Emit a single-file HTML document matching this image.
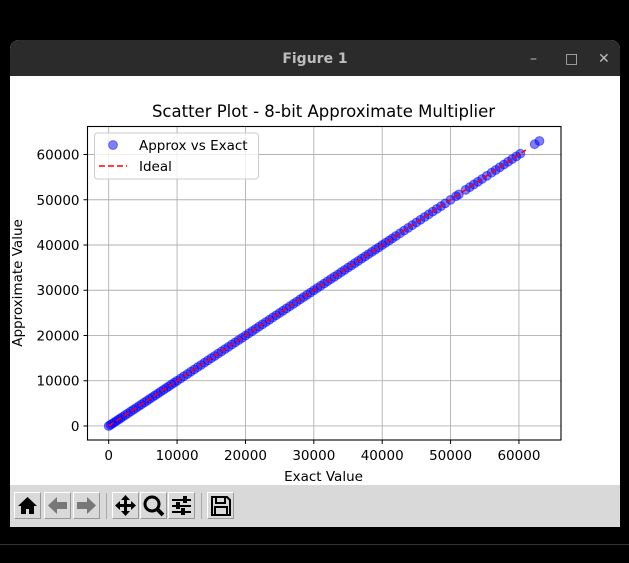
<!DOCTYPE html>
<html><head><meta charset="utf-8"><style>
html,body{margin:0;padding:0;background:#000;width:629px;height:563px;overflow:hidden;font-family:"DejaVu Sans","Liberation Sans",sans-serif}
#win{position:absolute;left:10px;top:40px;width:610px;height:487px;background:#fff;border-radius:9px 9px 0 0;overflow:hidden}
#titlebar{position:absolute;left:0;top:0;width:610px;height:36px;background:#2b2b2b;color:#bdbdbd;font-weight:bold;font-size:14px;text-align:center;line-height:38px}
#toolbar{position:absolute;left:0;top:445px;width:610px;height:42px;background:#d9d9d9}
.btn{position:absolute;top:7px;width:25px;height:25px;border:1px solid #fff;border-right-color:#999;border-bottom-color:#999;background:#d9d9d9}
.sep{position:absolute;top:8px;width:1px;height:26px;background:#aaa}
</style></head><body>
<div id="win">
 <div id="titlebar">Figure 1
  <span style="position:absolute;left:520px;top:0;font-weight:normal">–</span>
  <span style="position:absolute;left:555px;top:0;font-weight:normal">□</span>
  <span style="position:absolute;left:588px;top:0;font-weight:normal">✕</span>
 </div>
 <svg id="chart" width="610" height="409" style="position:absolute;left:0;top:36px" viewBox="10 76 610 409"></svg>
 <div id="toolbar">
  <div class="btn" style="left:4px"><svg width="25" height="25"><path d="M3 13 L12.5 4 L22 13 L19 13 L19 21 L14 21 L14 16 L11 16 L11 21 L6 21 L6 13Z" fill="#000"/></svg></div>
  <div class="btn" style="left:34px"><svg width="25" height="25"><path d="M3 12.5 L12 4 L12 9 L22 9 L22 16 L12 16 L12 21Z" fill="#777"/></svg></div>
  <div class="btn" style="left:63px"><svg width="25" height="25"><path d="M22 12.5 L13 4 L13 9 L3 9 L3 16 L13 16 L13 21Z" fill="#777"/></svg></div>
  <div class="sep" style="left:96px"></div>
  <div class="btn" style="left:102px"><svg width="25" height="25"><path d="M12.5 2 L17 7 L14 7 L14 11 L18 11 L18 8 L23 12.5 L18 17 L18 14 L14 14 L14 18 L17 18 L12.5 23 L8 18 L11 18 L11 14 L7 14 L7 17 L2 12.5 L7 8 L7 11 L11 11 L11 7 L8 7Z" fill="#000"/></svg></div>
  <div class="btn" style="left:130px"><svg width="25" height="25"><circle cx="11" cy="11" r="7" fill="none" stroke="#000" stroke-width="3"/><path d="M16 16 L22 22" stroke="#000" stroke-width="4"/></svg></div>
  <div class="btn" style="left:158px"><svg width="25" height="25" fill="#000"><rect x="3" y="6" width="19" height="2"/><rect x="3" y="12" width="19" height="2"/><rect x="3" y="18" width="19" height="2"/><rect x="14" y="3" width="4" height="7"/><rect x="7" y="9" width="4" height="7"/><rect x="12" y="15" width="4" height="7"/></svg></div>
  <div class="sep" style="left:191px"></div>
  <div class="btn" style="left:197px"><svg width="25" height="25"><path d="M4 4 L19 4 L22 7 L22 22 L4 22Z" fill="none" stroke="#000" stroke-width="2"/><rect x="8" y="4" width="9" height="6" fill="none" stroke="#000" stroke-width="2"/><rect x="7" y="14" width="12" height="8" fill="none" stroke="#000" stroke-width="2"/></svg></div>
 </div>
</div>
<div style="position:absolute;left:0;top:544px;width:629px;height:1px;background:#333"></div>
<script>
const xTicks=[0,10000,20000,30000,40000,50000,60000];
const yTicks=[0,10000,20000,30000,40000,50000,60000];
const exactVals=[0,250,500,800,1100,1400,1700,2000,2400,2800,3200,3600,4000,4400,4800,5200,5600,6000,6400,6800,7200,7600,8000,8400,8800,9200,9600,10000,10500,11000,11500,12000,12500,13000,13500,14000,14500,15000,15500,16000,16500,17000,17500,18000,18500,19000,19500,20000,20500,21000,21500,22000,22500,23000,23500,24000,24500,25000,25500,26000,26500,27000,27500,28000,28500,29000,29500,30000,30500,31000,31500,32000,32500,33000,33500,34000,34500,35000,35500,36000,36500,37000,37500,38000,38500,39000,39500,40000,40500,41000,41500,42000,42600,43200,43800,44400,45000,45600,46200,46800,47400,48000,48600,49200,50000,50800,51200,52200,52800,53400,54000,54600,55300,56000,56600,57200,57800,58400,59000,59600,60200,62300,63000];
const approxVals=[0,240,490,780,1080,1380,1680,1990,2380,2790,3180,3590,3980,4390,4780,5190,5580,5990,6380,6790,7180,7590,7980,8390,8780,9190,9580,9990,10480,10990,11470,11990,12480,12990,13470,13990,14480,14980,15470,15990,16480,16980,17470,17990,18480,18980,19470,19990,20480,20980,21470,21990,22480,22980,23470,23990,24480,24980,25470,25990,26480,26980,27470,27990,28480,28980,29470,29990,30480,30980,31470,31990,32480,32980,33470,33990,34480,34980,35470,35990,36480,36980,37470,37990,38480,38980,39470,39990,40480,40980,41470,41990,42580,43180,43780,44380,44980,45580,46180,46780,47380,47980,48580,49180,49980,50780,51180,52180,52780,53380,53980,54580,55280,55980,56580,57180,57780,58380,58980,59580,60180,62280,62980];
const idealRange=[0,61000];
const NS='http://www.w3.org/2000/svg';
const svg=document.getElementById('chart');
const L=87.5,R=561,T=126.5,B=440;
const xMin=-3100,xMax=66150,yMin=-3100,yMax=66190;
const sx=v=>L+(v-xMin)/(xMax-xMin)*(R-L);
const sy=v=>B-(v-yMin)/(yMax-yMin)*(B-T);
function mk(tag,attrs,parent){const e=document.createElementNS(NS,tag);for(const k in attrs)e.setAttribute(k,attrs[k]);(parent||svg).appendChild(e);return e;}
const bg=mk('rect',{x:10,y:76,width:610,height:409,fill:'#fff'});


const t=mk('text',{x:323.5,y:117,'text-anchor':'middle','font-size':16.5,fill:'#000'});
t.textContent='Scatter Plot - 8-bit Approximate Multiplier';


xTicks.forEach(v=>{const x=sx(v);
 const g=mk('line',{x1:x,x2:x,y1:T,y2:B,stroke:'#b0b0b0','stroke-width':0.9});
 
 
 mk('line',{x1:x,x2:x,y1:B,y2:B+4,stroke:'#000'});
 const l=mk('text',{x:x,y:B+20,'text-anchor':'middle','font-size':13.5});l.textContent=v;
 
 });
yTicks.forEach(v=>{const y=sy(v);
 const g=mk('line',{x1:L,x2:R,y1:y,y2:y,stroke:'#b0b0b0','stroke-width':0.9});
 
 
 mk('line',{x1:L-4,x2:L,y1:y,y2:y,stroke:'#000'});
 const l=mk('text',{x:L-8,y:y+5,'text-anchor':'end','font-size':13.5});l.textContent=v;
 
 });
exactVals.forEach((v,i)=>{const c=mk('circle',{cx:sx(v),cy:sy(approxVals[i]),r:4.4,fill:'#0000ff','fill-opacity':0.5,stroke:'#0000ff','stroke-opacity':0.5,'stroke-width':1});
 
 });
const ideal=mk('line',{x1:sx(idealRange[0]),y1:sy(idealRange[0]),x2:sx(idealRange[1]),y2:sy(idealRange[1]),stroke:'#ff0000','stroke-width':1.6,'stroke-dasharray':'6,3'});


const fr=mk('rect',{x:L,y:T,width:R-L,height:B-T,fill:'none',stroke:'#000','stroke-width':1.1});


const xl=mk('text',{x:323.5,y:481,'text-anchor':'middle','font-size':13.5});xl.textContent='Exact Value';


const yl=mk('text',{x:22,y:283,'text-anchor':'middle','font-size':13.5,transform:'rotate(-90 22 283)'});yl.textContent='Approximate Value';


const lg=mk('g',{});


mk('rect',{x:94.5,y:133,width:164,height:46,rx:3,fill:'#fff','fill-opacity':0.8,stroke:'#ccc'},lg);
const e1=mk('circle',{cx:113,cy:145,r:4.4,fill:'#0000ff','fill-opacity':0.5,stroke:'#0000ff','stroke-opacity':0.5},lg);

const t1=mk('text',{x:139,y:150,'font-size':13.5},lg);t1.textContent='Approx vs Exact';


mk('line',{x1:99,x2:127,y1:166,y2:166,stroke:'#ff0000','stroke-width':1.6,'stroke-dasharray':'6,3'},lg);
const t2=mk('text',{x:139,y:171,'font-size':13.5},lg);t2.textContent='Ideal';


</script>
</body></html>
